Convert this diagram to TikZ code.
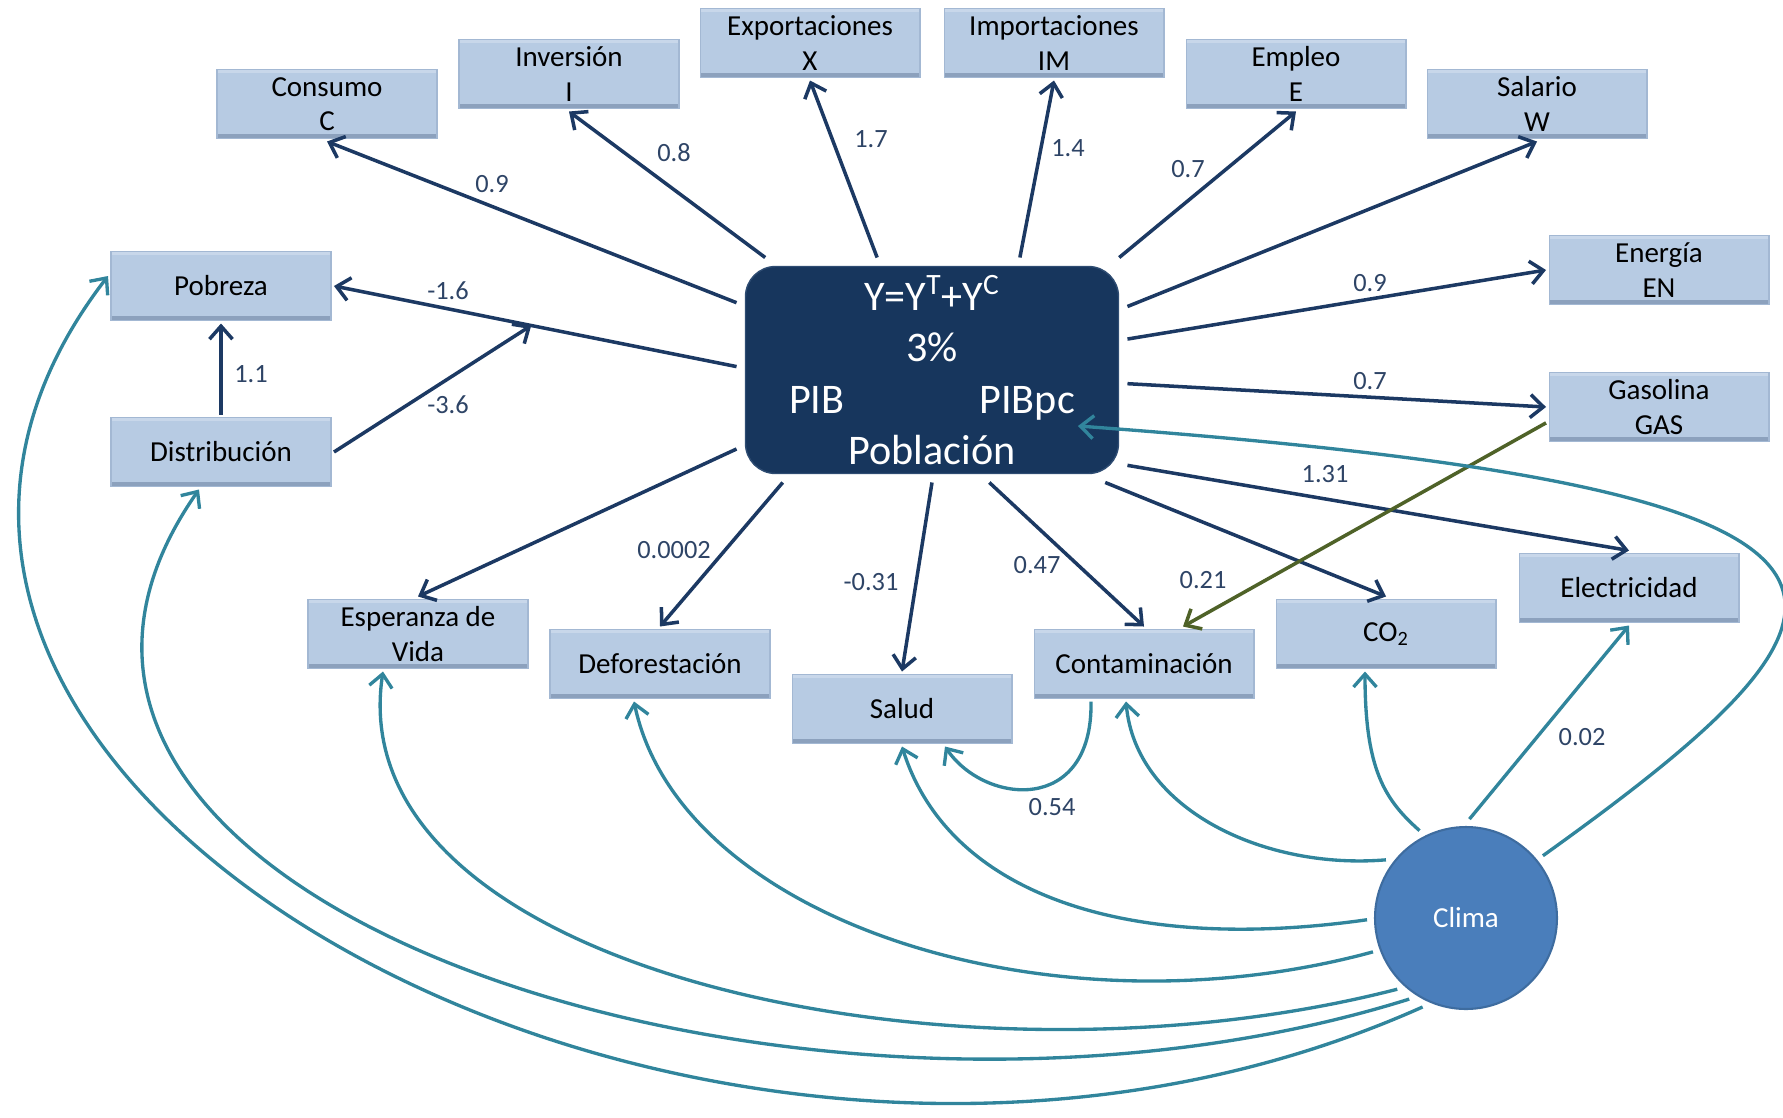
\documentclass[tikz,border=0pt]{standalone}
\usepackage{fontspec}
\setmainfont{Carlito}
\usetikzlibrary{arrows.meta}
\definecolor{boxfill}{HTML}{B7CBE3}
\definecolor{boxedge}{HTML}{A3B8D3}
\definecolor{boxdark}{HTML}{8CA1BD}
\definecolor{boxlight}{HTML}{C8D7EA}
\definecolor{pibblue}{HTML}{17365D}
\definecolor{pibedge}{HTML}{2E4C72}
\definecolor{flechanavy}{HTML}{1C3963}
\definecolor{coefcol}{HTML}{2E4466}
\definecolor{climablue}{HTML}{4A7EBB}
\definecolor{climarim}{HTML}{3E6C9F}
\definecolor{climateal}{HTML}{31859C}
\definecolor{olivo}{HTML}{4F6228}

\begin{document}
\begin{tikzpicture}[x=0.02cm, y=-0.02cm,
    varbox/.style={draw=boxedge, fill=boxfill, line width=0.6pt,
      minimum width=4.4cm, minimum height=1.38cm, inner sep=0pt, outer sep=0.06cm,
      align=center, font=\fontsize{16.5}{19.5}\selectfont,
      path picture={
        \fill[boxdark] ([yshift=0.1cm]path picture bounding box.south west) rectangle (path picture bounding box.south east);
        \fill[boxlight] (path picture bounding box.north west) rectangle ([yshift=-0.07cm]path picture bounding box.north east);}},
    flecha/.style={draw=flechanavy, line width=2pt, -{Straight Barb[length=0.26cm, width=0.46cm]}},
    flechaclima/.style={flecha, draw=climateal, line width=1.9pt},
    coef/.style={text=coefcol, font=\fontsize{15}{18}\selectfont, inner sep=1pt}]
  \useasboundingbox (0,0) rectangle (1783,1117);

  % variables
  \node[varbox] (consumo) at (327,104) {Consumo\\C};
  \node[varbox] (inversion) at (569,74) {Inversión\\I};
  \node[varbox] (exportaciones) at (810,43) {Exportaciones\\X};
  \node[varbox] (importaciones) at (1054,43) {Importaciones\\IM};
  \node[varbox] (empleo) at (1296,74) {Empleo\\E};
  \node[varbox] (salario) at (1537,104) {Salario\\W};
  \node[varbox] (energia) at (1659,270) {Energía\\EN};
  \node[varbox] (gasolina) at (1659,407) {Gasolina\\GAS};
  \node[varbox] (pobreza) at (221,286) {Pobreza};
  \node[varbox] (distribucion) at (221,452) {Distribución};
  \node[varbox] (esperanza) at (418,634) {Esperanza de\\Vida};
  \node[varbox] (deforestacion) at (660,664) {Deforestación};
  \node[varbox] (salud) at (902,709) {Salud};
  \node[varbox] (contaminacion) at (1144,664) {Contaminación};
  \node[varbox] (co2) at (1386,634) {CO\textsubscript{2}};
  \node[varbox] (electricidad) at (1629,588) {Electricidad};

  \node[fill=pibblue, draw=pibedge, line width=0.8pt, rounded corners=0.6cm,
        minimum width=7.46cm, minimum height=4.14cm, outer sep=0.18cm,
        text=white, align=center, font=\fontsize{24}{29.2}\selectfont] (pib) at (932,370)
    {Y=Y\textsuperscript{T}+Y\textsuperscript{C}\\3\%\\PIB\hspace{2.7cm}PIBpc\\Población};

  \node[circle, fill=climablue, draw=climarim, line width=1.2pt, minimum size=3.64cm,
        outer sep=0.16cm, text=white, font=\fontsize{16.5}{19.5}\selectfont] (clima) at (1466,918) {Clima};

  % efectos del PIB
  \foreach \ang/\dest in {161.6/consumo.south, 146/inversion.south, 116/exportaciones.south,
      52/importaciones.south, 31/empleo.south, 18/salario.south, 9/energia.west,
      356/gasolina.west, 334/electricidad.north, 327/co2.north, 297/contaminacion.north,
      270/salud.north, 217/deforestacion.north, 202/esperanza.north}
    \draw[flecha] (pib.\ang) -- (\dest);
  \draw[flecha] (pib.179) -- coordinate[pos=0.51] (modpob) (pobreza.east);
  \draw[flecha] (distribucion.east) -- (modpob);
  \draw[flecha] (distribucion.north) -- (pobreza.south);
  \draw[flecha, draw=olivo] (gasolina.188) -- ([xshift=0.78cm]contaminacion.north);

  % efectos del clima
  \draw[flechaclima] (clima.88) -- (electricidad.south);
  \draw[flechaclima] (clima.118) .. controls (1385,800) and (1365,770) .. ([xshift=-0.42cm]co2.south);
  \draw[flechaclima] (clima.144) .. controls (1265,870) and (1136,810) .. ([xshift=-0.36cm]contaminacion.south);
  \draw[flechaclima] (clima.181) .. controls (1119,955) and (947,890) .. (salud.south);
  \draw[flechaclima] ([xshift=-1.06cm]contaminacion.south) .. controls (1093,815) and (985,805) .. ([xshift=0.86cm]salud.south);
  \draw[flechaclima] (clima.200) .. controls (1050,1040) and (680,920) .. ([xshift=-0.52cm]deforestacion.south);
  \draw[flechaclima] (clima.226) .. controls (960,1102) and (338,972) .. ([xshift=-0.7cm]esperanza.south);
  \draw[flechaclima] (clima.235) .. controls (800,1190) and (-88,900) .. ([xshift=-0.44cm]distribucion.south);
  \draw[flechaclima] (clima.244) .. controls (700,1330) and (-280,780) .. ([yshift=0.2cm]pobreza.west);
  \draw[flechaclima] (clima.39) .. controls (1900,600) and (1950,490) .. ([xshift=2.92cm, yshift=-1.12cm]pib.center);

  % coeficientes
  \foreach \x/\y/\t [count=\i] in {492/184/0.9, 674/153/0.8, 871/139/1.7, 1068/148/1.4,
      1188/169/0.7, 1370/283/0.9, 1370/381/0.7, 1325/474/1.31, 1203/580/0.21,
      1037/565/0.47, 871/582/-0.31, 674/550/0.0002, 448/291/-1.6, 448/405/-3.6,
      251/374/1.1, 1052/807/0.54, 1582/737/0.02}
    \node[coef] (coef\i) at (\x,\y) {\t};
\end{tikzpicture}
\end{document}
